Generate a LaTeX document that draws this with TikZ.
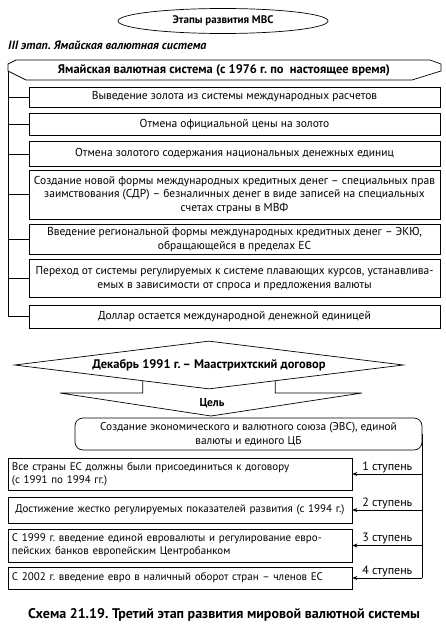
\documentclass[tikz,border=0pt]{standalone}
\usepackage{fontspec}
\setmainfont{PT Sans}
\usetikzlibrary{arrows.meta,positioning,shapes.geometric,calc}
\frenchspacing

\tikzset{
	box/.style={draw, line width=0.7pt, minimum width=411pt, inner sep=2pt, align=center, font=\fontsize{11.5}{13.5}\selectfont},
	stage/.style={draw, line width=0.7pt, minimum width=344pt, inner xsep=4pt, inner ysep=2pt, text width=336pt, align=left, font=\fontsize{11}{13}\selectfont},
	link/.style={line width=0.7pt},
	hdr/.style={font=\bfseries\fontsize{12.5}{14}\selectfont}
}

\begin{document}
\begin{tikzpicture}[x=1pt, y=-1pt]
	\useasboundingbox (0,0) rectangle (446,626);

	\node[draw, link, ellipse, minimum width=210pt, minimum height=25pt, font=\bfseries\fontsize{11}{13}\selectfont] (top) at (223,21) {Этапы развития МВС};
	\node[anchor=base west, inner sep=0pt, font=\bfseries\itshape\fontsize{12}{14}\selectfont] (stage3) at (8,49) {III этап. Ямайская валютная система};

	\draw[link] (16,60) -- (430,60) -- (441,64) -- (441,71) -- (412,80) -- (26,80) -- (8,71) -- (8,64) -- cycle;
	\node[hdr] (jam) at (224,70) {Ямайская валютная система (с 1976 г. по \ настоящее время)};
	\coordinate (spine) at (8,71);

	\node[box, minimum height=20pt] (b1) at (234.5,97) {Выведение золота из системы международных расчетов};
	\node[box, minimum height=22pt] (b2) [below=6pt of b1] {Отмена официальной цены на золото};
	\node[box, minimum height=25pt] (b3) [below=5pt of b2] {Отмена золотого содержания национальных денежных единиц};
	\node[box, minimum height=49pt] (b4) [below=3pt of b3] {Создание новой формы международных кредитных денег – специальных прав\\заимствования (СДР) – безналичных денег в виде записей на специальных\\счетах страны в МВФ};
	\node[box, minimum height=30pt] (b5) [below=5pt of b4] {Введение региональной формы международных кредитных денег – ЭКЮ,\\обращающейся в пределах ЕС};
	\node[box, minimum height=38pt] (b6) [below=4pt of b5] {Переход от системы регулируемых к системе плавающих курсов, устанавлива-\\емых в зависимости от спроса и предложения валюты};
	\node[box, minimum height=23pt] (b7) [below=7pt of b6] {Доллар остается международной денежной единицей};

	\draw[link] (spine) |- (b7.west);
	\foreach \b in {b1,b2,b3,b4,b5,b6}
		\draw[link] (spine |- \b.west) -- (\b.west);

	\node[draw, link, diamond, aspect=8, minimum width=389pt, minimum height=48pt, inner sep=0pt, hdr] (dec) at (209,365) {Декабрь 1991 г.\,– Маастрихтский договор};
	\coordinate (tl) at (60,393);
	\coordinate (tr) at (362,393);
	\coordinate (tb) at (211,416);
	\draw[link] ($(dec.south)!.34!(dec.west)$) |- (tl) -- (tb) -- (tr) -| ($(dec.south)!.34!(dec.east)$);
	\node[font=\bfseries\fontsize{11.5}{13}\selectfont] (aim) at (212,403) {Цель};

	\node[draw, link, rounded corners=8pt, minimum width=347pt, minimum height=32pt, inner sep=2pt, align=center, font=\fontsize{11.3}{14}\selectfont] (goal) at (248.5,434) {Создание экономического и валютного союза (ЭВС), единой\\валюты и единого ЦБ};

	\node[stage, minimum height=32pt] (L1) at (180,474) {Все страны ЕС должны были присоединиться к договору\\(с 1991 по 1994 гг.)};
	\node[stage, minimum height=26pt, align=center] (L2) at (180,510) {Достижение жестко регулируемых показателей развития (с 1994 г.)};
	\node[stage, minimum height=33pt] (L3) at (180,545.5) {С 1999 г. введение единой евровалюты и регулирование евро-\\пейских банков европейским Центробанком};
	\node[stage, minimum height=22pt] (L4) at (180,578) {С 2002 г. введение евро в наличный оборот стран – членов ЕС};

	\draw[link] (goal.east) -- (goal.east |- L4.east);
	\foreach \b/\n in {L1/1,L2/2,L3/3,L4/4}
		\draw[link, -{Stealth[length=5pt, width=4pt]}] (goal.east |- \b.east) -- node[above, inner sep=1pt, font=\fontsize{12}{14}\selectfont] {\n\ ступень} (\b.east);

	\node[font=\bfseries\fontsize{14}{16}\selectfont] (caption) at (224,615) {Схема 21.19. Третий этап развития мировой валютной системы};
\end{tikzpicture}
\end{document}
